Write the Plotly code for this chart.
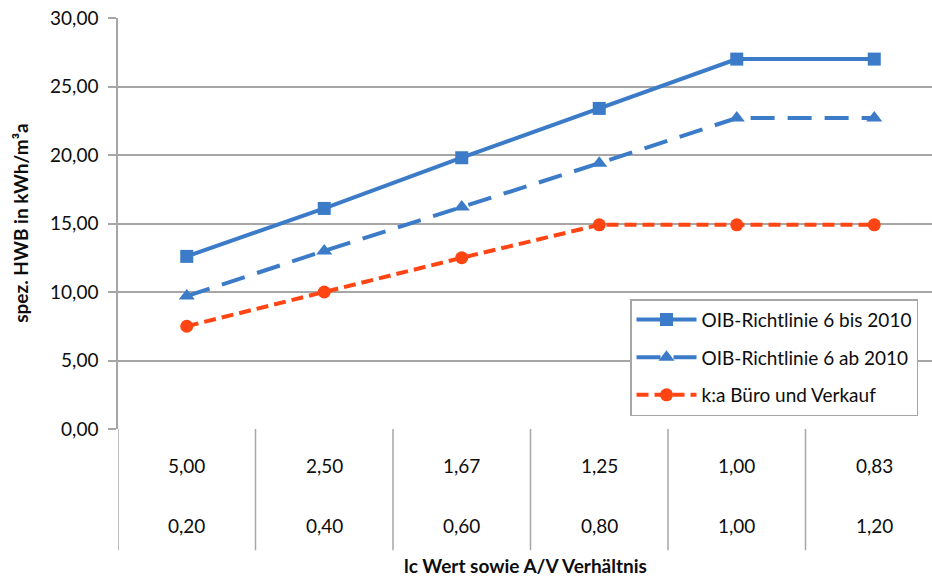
import plotly.graph_objects as go

# Categories: lc value (first row) and A/V ratio (second row)
lc_values = ["5,00", "2,50", "1,67", "1,25", "1,00", "0,83"]
av_values = ["0,20", "0,40", "0,60", "0,80", "1,00", "1,20"]

# Specific heating demand in kWh/m³a
oib_bis_2010 = [12.6, 16.1, 19.8, 23.4, 27.0, 27.0]
oib_ab_2010 = [9.7, 13.0, 16.2, 19.4, 22.7, 22.7]
ka_buero = [7.5, 10.0, 12.5, 14.9, 14.9, 14.9]

series_names = ["OIB-Richtlinie 6 bis 2010", "OIB-Richtlinie 6 ab 2010", "k:a Büro und Verkauf"]

BLUE = "#3b7bc8"
RED = "#ff4513"
GRID = "#a6a6a6"
TEXT = "#0d0d0d"
FONT = "Lato, Calibri, Arial, sans-serif"
FS = 19

x = list(range(len(lc_values)))

fig = go.Figure()
fig.add_trace(go.Scatter(
    x=x, y=oib_bis_2010, name=series_names[0], mode="lines+markers",
    line=dict(color=BLUE, width=4),
    marker=dict(symbol="square", size=13, color=BLUE),
    legendgroup="a",
))
fig.add_trace(go.Scatter(
    x=x, y=oib_ab_2010, name=series_names[1], mode="lines+markers",
    line=dict(color=BLUE, width=4, dash="24px,13px"),
    marker=dict(symbol="triangle-up", size=14, color=BLUE),
    legendgroup="b",
))
fig.add_trace(go.Scatter(
    x=x, y=ka_buero, name=series_names[2], mode="lines+markers",
    line=dict(color=RED, width=4, dash="12px,6px"),
    marker=dict(symbol="circle", size=13, color=RED),
    legendgroup="c",
))

# Table-like category axis below the plot
shapes = []
for i in range(len(lc_values)):
    shapes.append(dict(
        type="line", xref="x", yref="paper",
        x0=i - 0.5, x1=i - 0.5, y0=0, y1=-0.295,
        line=dict(color=GRID, width=1.5),
    ))

annotations = []
for i, (lc, av) in enumerate(zip(lc_values, av_values)):
    annotations.append(dict(
        x=i, y=-0.088, xref="x", yref="paper", text=lc, showarrow=False,
        font=dict(family=FONT, size=FS, color=TEXT), yanchor="middle",
    ))
    annotations.append(dict(
        x=i, y=-0.234, xref="x", yref="paper", text=av, showarrow=False,
        font=dict(family=FONT, size=FS, color=TEXT), yanchor="middle",
    ))

annotations.append(dict(
    x=0.5, y=-0.333, xref="paper", yref="paper",
    text="<b>lc Wert sowie A/V Verhältnis</b>", showarrow=False,
    font=dict(family=FONT, size=FS, color=TEXT), yanchor="middle",
))
annotations.append(dict(
    x=-0.12, y=0.5, xref="paper", yref="paper", textangle=-90,
    text="<b>spez. HWB in kWh/m³a</b>", showarrow=False,
    font=dict(family=FONT, size=FS, color=TEXT),
    xanchor="center", yanchor="middle",
))

fig.update_layout(
    width=932, height=579,
    margin=dict(l=118, r=0, t=18, b=150),
    paper_bgcolor="white", plot_bgcolor="white",
    separators=", ",
    font=dict(family=FONT, size=FS, color=TEXT),
    showlegend=True,
    legend=dict(
        x=0.629, y=0.316, xanchor="left", yanchor="top",
        bordercolor=GRID, borderwidth=1.5, bgcolor="white",
        font=dict(family=FONT, size=FS, color=TEXT),
        tracegroupgap=10, traceorder="grouped", itemwidth=60,
    ),
    xaxis=dict(
        range=[-0.5, 5.42], showticklabels=False, showgrid=False,
        zeroline=False, showline=False, ticks="",
    ),
    yaxis=dict(
        range=[0, 30], tick0=0, dtick=5, tickformat=".2f",
        showgrid=True, gridcolor=GRID, gridwidth=1.5,
        zeroline=False, showline=True, linecolor=GRID, linewidth=1.5,
        ticks="outside", ticklen=8, tickcolor=GRID, tickwidth=1.5,
        ticklabelstandoff=6,
        tickfont=dict(family=FONT, size=FS, color=TEXT),
    ),
    shapes=shapes,
    annotations=annotations,
)

fig.write_html("out.html")
